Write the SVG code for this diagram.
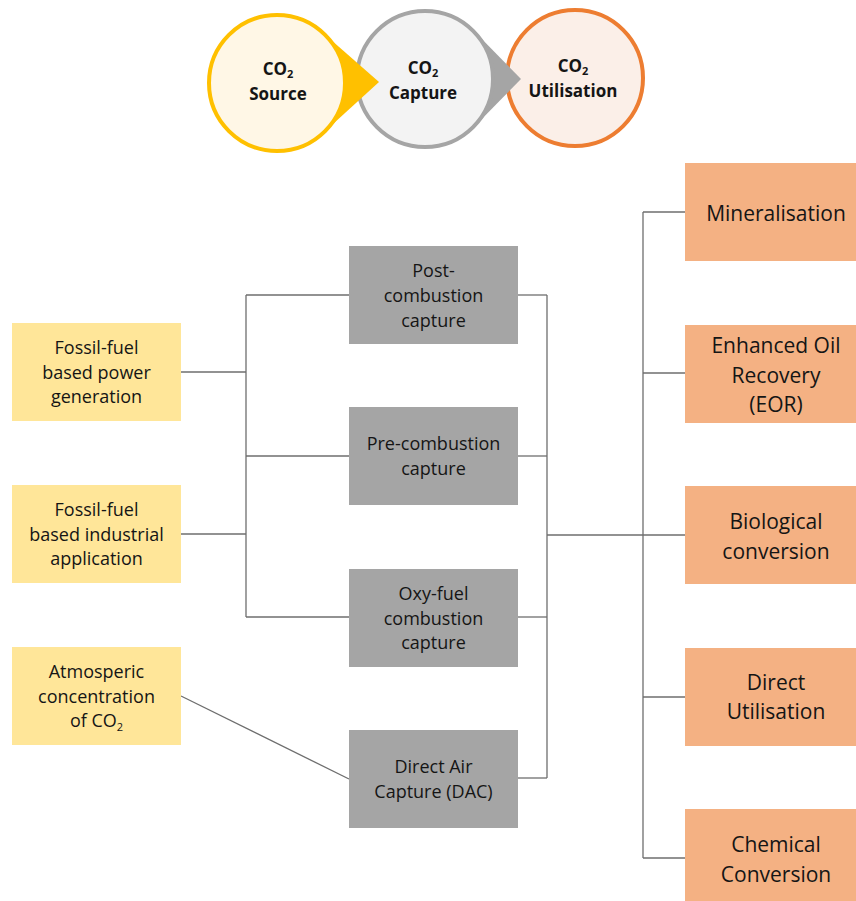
<svg xmlns="http://www.w3.org/2000/svg" width="856" height="901" viewBox="0 0 856 901">
  <style>
    .t { font-family: "Open Sans", "Liberation Sans", sans-serif; fill: #151515; text-anchor: middle; }
    .sm { font-size: 18px; }
    .lg { font-size: 21px; }
    .hd { font-size: 17px; font-weight: bold; }
    .sub { font-size: 11px; }
    .src { fill: #FFE699; }
    .cap { fill: #A5A5A5; }
    .use { fill: #F4B183; }
    .wire { fill: none; stroke: #6E6E6E; stroke-width: 1.3; }
  </style>

  <rect width="856" height="901" fill="#FFFFFF"/>

  <!-- Process chain: drawn right to left so each tail overlaps the next circle -->
  <g id="stage-utilisation">
    <circle cx="575" cy="78" r="68" fill="#FBEFE8" stroke="#ED7D31" stroke-width="4"/>
    <text class="t hd" x="573" y="72">CO<tspan class="sub" dy="3">2</tspan></text>
    <text class="t hd" x="573" y="97">Utilisation</text>
  </g>
  <g id="stage-capture">
    <polygon points="521,79 473,30 473,128" fill="#A5A5A5"/>
    <circle cx="425" cy="79" r="68" fill="#F3F3F3" stroke="#A5A5A5" stroke-width="4"/>
    <text class="t hd" x="423" y="74">CO<tspan class="sub" dy="3">2</tspan></text>
    <text class="t hd" x="423" y="99">Capture</text>
  </g>
  <g id="stage-source">
    <polygon points="379,82 322,32 322,134" fill="#FFC000"/>
    <circle cx="277" cy="83" r="68" fill="#FFF7E6" stroke="#FFC000" stroke-width="4"/>
    <text class="t hd" x="278" y="75">CO<tspan class="sub" dy="3">2</tspan></text>
    <text class="t hd" x="278" y="100">Source</text>
  </g>

  <!-- Connectors -->
  <g id="connectors" class="wire">
    <path d="M181 372 H246"/>
    <path d="M181 534 H246"/>
    <path d="M246 295 V617"/>
    <path d="M246 295 H349"/>
    <path d="M246 456 H349"/>
    <path d="M246 617 H349"/>
    <path d="M181 696 L349 779"/>
    <path d="M518 295 H547"/>
    <path d="M518 456 H547"/>
    <path d="M518 617 H547"/>
    <path d="M518 778 H547"/>
    <path d="M547 295 V778"/>
    <path d="M547 535 H685"/>
    <path d="M643 212 V858"/>
    <path d="M643 212 H685"/>
    <path d="M643 373 H685"/>
    <path d="M643 697 H685"/>
    <path d="M643 858 H685"/>
  </g>

  <!-- Sources -->
  <g id="src-power">
    <rect class="src" x="12" y="323" width="169" height="98"/>
    <text class="t sm" x="96.5" y="354">Fossil-fuel</text>
    <text class="t sm" x="96.5" y="379">based power</text>
    <text class="t sm" x="96.5" y="403">generation</text>
  </g>
  <g id="src-industrial">
    <rect class="src" x="12" y="485" width="169" height="98"/>
    <text class="t sm" x="96.5" y="516">Fossil-fuel</text>
    <text class="t sm" x="96.5" y="541">based industrial</text>
    <text class="t sm" x="96.5" y="565">application</text>
  </g>
  <g id="src-atmosphere">
    <rect class="src" x="12" y="647" width="169" height="98"/>
    <text class="t sm" x="96.5" y="678">Atmosperic</text>
    <text class="t sm" x="96.5" y="703">concentration</text>
    <text class="t sm" x="96.5" y="727">of CO<tspan class="sub" dy="4">2</tspan></text>
  </g>

  <!-- Capture routes -->
  <g id="cap-post">
    <rect class="cap" x="349" y="246" width="169" height="98"/>
    <text class="t sm" x="433.5" y="277">Post-</text>
    <text class="t sm" x="433.5" y="302">combustion</text>
    <text class="t sm" x="433.5" y="327">capture</text>
  </g>
  <g id="cap-pre">
    <rect class="cap" x="349" y="407" width="169" height="98"/>
    <text class="t sm" x="433.5" y="450">Pre-combustion</text>
    <text class="t sm" x="433.5" y="475">capture</text>
  </g>
  <g id="cap-oxy">
    <rect class="cap" x="349" y="569" width="169" height="98"/>
    <text class="t sm" x="433.5" y="600">Oxy-fuel</text>
    <text class="t sm" x="433.5" y="625">combustion</text>
    <text class="t sm" x="433.5" y="649">capture</text>
  </g>
  <g id="cap-dac">
    <rect class="cap" x="349" y="730" width="169" height="98"/>
    <text class="t sm" x="433.5" y="773">Direct Air</text>
    <text class="t sm" x="433.5" y="798">Capture (DAC)</text>
  </g>

  <!-- Utilisation routes -->
  <g id="use-mineral">
    <rect class="use" x="685" y="163" width="180" height="98"/>
    <text class="t lg" x="776" y="221">Mineralisation</text>
  </g>
  <g id="use-eor">
    <rect class="use" x="685" y="325" width="180" height="98"/>
    <text class="t lg" x="776" y="353">Enhanced Oil</text>
    <text class="t lg" x="776" y="383">Recovery</text>
    <text class="t lg" x="776" y="412">(EOR)</text>
  </g>
  <g id="use-bio">
    <rect class="use" x="685" y="486" width="180" height="98"/>
    <text class="t lg" x="776" y="529">Biological</text>
    <text class="t lg" x="776" y="559">conversion</text>
  </g>
  <g id="use-direct">
    <rect class="use" x="685" y="648" width="180" height="98"/>
    <text class="t lg" x="776" y="690">Direct</text>
    <text class="t lg" x="776" y="719">Utilisation</text>
  </g>
  <g id="use-chemical">
    <rect class="use" x="685" y="809" width="180" height="98"/>
    <text class="t lg" x="776" y="852">Chemical</text>
    <text class="t lg" x="776" y="882">Conversion</text>
  </g>
</svg>
